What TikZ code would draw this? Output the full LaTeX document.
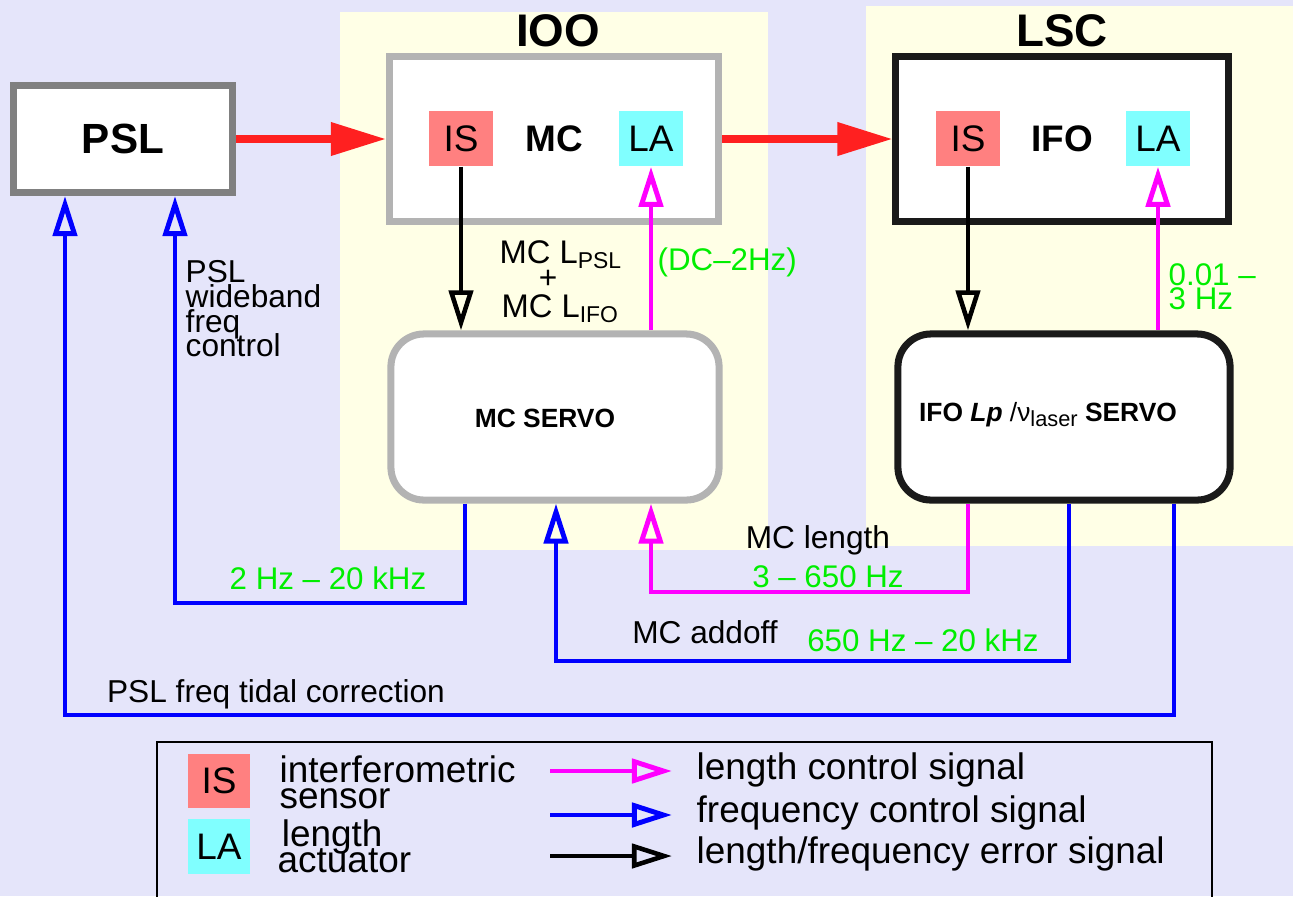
\documentclass[tikz,border=0pt]{standalone}
\usepackage{fontspec}
\setmainfont{Liberation Sans}
\usetikzlibrary{arrows.meta,calc,positioning}
\definecolor{Lavender}{HTML}{E5E5FA}
\definecolor{Cream}{HTML}{FFFFE6}
\definecolor{Beam}{HTML}{FF2020}
\definecolor{LenCol}{HTML}{FF00FF}
\definecolor{FreqCol}{HTML}{0000FF}
\definecolor{Band}{HTML}{00EE00}
\definecolor{Sensor}{HTML}{FF8080}
\definecolor{Actuator}{HTML}{80FFFF}
\definecolor{Frame}{HTML}{1A1A1A}
\definecolor{Pale}{HTML}{B3B3B3}
\newcommand{\fsz}[2]{\fontsize{#1pt}{#2pt}\selectfont\lineskiplimit=-100pt}

\begin{document}
\begin{tikzpicture}[x=0.01cm,y=-0.01cm,
  box/.style={draw,line width=2pt,fill=white,inner sep=0pt,font=\fsz{10.5}{12}\bfseries},
  servo/.style={box,rounded corners=0.33cm},
  chip/.style={inner sep=0pt,minimum width=0.64cm,minimum height=0.55cm,font=\fsz{10.5}{12}},
  tip/.style={-{Triangle[open,length=4mm,width=2.4mm]}},
  lenline/.style={LenCol,line width=1.4pt,tip},
  freqline/.style={FreqCol,line width=1.4pt,tip},
  errline/.style={black,line width=1.3pt,tip},
  beam/.style={Beam,line width=2pt,-{Triangle[length=5.5mm,width=3.2mm]}},
  note/.style={inner sep=0pt,font=\fsz{9}{10}},
  band/.style={note,Band,font=\fsz{8.9}{10}},
  title/.style={inner sep=0pt,font=\fsz{13}{15}\bfseries},
  legend/.style={inner sep=0pt,font=\fsz{10.5}{7.4},align=left}
]
\useasboundingbox (0,0) rectangle (1293,896);
\fill[Lavender] (0,0) rectangle (1293,896);
\fill[Cream] (340,12) rectangle (768,550);
\fill[Cream] (866,6) rectangle (1293,546);
\node[title] (ioo) at (558,31) {IOO};
\node[title] (lsc) at (1062,31) {LSC};

% optics
\node[box,draw=gray,minimum width=2.19cm,minimum height=1.07cm,font=\fsz{12}{14}\bfseries] (psl) at (123,139) {PSL};
\node[box,draw=Pale,minimum width=3.29cm,minimum height=1.65cm] (mc) at (554,139) {MC};
\node[box,draw=Frame,minimum width=3.32cm,minimum height=1.65cm] (ifo) at (1062,139) {IFO};
\node[chip,fill=Sensor] (mcis) at (461,138.5) {IS};
\node[chip,fill=Actuator] (mcla) at (651,138.5) {LA};
\node[chip,fill=Sensor] (ifois) at (968,138.5) {IS};
\node[chip,fill=Actuator] (ifola) at (1158,138.5) {LA};
\draw[beam] (psl.east) -- (mc.west);
\draw[beam] (mc.east) -- (ifo.west);

% servos
\node[servo,draw=Pale,minimum width=3.28cm,minimum height=1.66cm] (mcservo) at (555,417) {};
\node[servo,draw=Frame,minimum width=3.32cm,minimum height=1.66cm] (ifoservo) at (1064,417) {};
\node[note,font=\fsz{7.5}{9}\bfseries] (mcservotext) at (545,418) {MC SERVO};
\node[note,font=\fsz{7.5}{9}\bfseries] (ifoservotext) at (1048,415)
  {IFO \textit{Lp} \mdseries/ν\raisebox{-0.35ex}{\fsz{6.2}{7}laser} \bfseries SERVO};

\draw[errline] (mcis.south) -- (mcis.south |- mcservo.north);
\draw[lenline] (mcservo.north -| mcla) -- (mcla.south);
\draw[errline] (ifois.south) -- (ifois.south |- ifoservo.north);
\draw[lenline] (ifoservo.north -| ifola) -- (ifola.south);
\node[note,anchor=base west,font=\fsz{9.3}{10}] (lpsl) at (499,263) {MC L\textsubscript{PSL}};
\node[note] (plus) at (548,279) {+};
\node[note,anchor=base west,font=\fsz{9.3}{10}] (lifo) at (501,317) {MC L\textsubscript{IFO}};
\node[band,anchor=west] (dcband) at (657,262) {(DC–2Hz)};
\node[band,anchor=north west,align=left,font=\fsz{8.9}{6.9}] (ifoband) at (1168,263) {0.01 –\\3 Hz};

% feedback paths
\coordinate (wbR) at (465,603); \coordinate (wbL) at (175,603);
\coordinate (lenR) at (968,592); \coordinate (lenL) at (651,592);
\coordinate (adR) at (1069,661); \coordinate (adL) at (556,661);
\coordinate (tdR) at (1174,715); \coordinate (tdL) at (65,715);
\draw[freqline] (mcservo.south -| wbR) -- (wbR) -- (wbL) -- (psl.south -| wbL);
\draw[lenline] (ifoservo.south -| lenR) -- (lenR) -- (lenL) -- (mcservo.south -| lenL);
\draw[freqline] (ifoservo.south -| adR) -- (adR) -- (adL) -- (mcservo.south -| adL);
\draw[freqline] (ifoservo.south -| tdR) -- (tdR) -- (tdL) -- (psl.south -| tdL);
\node[note,anchor=north west,align=left,font=\fsz{9}{7}] (wbtext) at (185,260) {PSL\\wideband\\freq\\control};
\node[band] (wbband) at (328,578) {2 Hz – 20 kHz};
\node[note] (lentext) at (818,540) {MC length};
\node[band] (lenband) at (828,577) {3 – 650 Hz};
\node[note] (adtext) at (705,632) {MC addoff};
\node[band] (adband) at (923,640) {650 Hz – 20 kHz};
\node[note] (tdtext) at (276,694) {PSL freq tidal correction};

% legend
\draw[black,line width=0.6pt] (157,900) -- (157,742) -- (1212,742) -- (1212,900);
\node[chip,fill=Sensor,minimum width=0.62cm,minimum height=0.54cm] (keyis) at (219,781) {IS};
\node[chip,fill=Actuator,minimum width=0.62cm,minimum height=0.55cm] (keyla) at (219,846.5) {LA};
\node[legend,anchor=north west] (keyistext) at (279,755) {interferometric\\sensor};
\node[legend,anchor=north west] (keylatext) at (277,819) {\hspace{1.2pt}length\\actuator};
\coordinate (k1) at (550,771); \coordinate (k2) at (550,815); \coordinate (k3) at (550,856);
\draw[lenline] (k1) -- ++(122,0) coordinate (k1e);
\draw[freqline] (k2) -- ++(122,0) coordinate (k2e);
\draw[errline] (k3) -- ++(122,0) coordinate (k3e);
\node[legend,anchor=base west] (keylen) at (696,779) {length control signal};
\node[legend,anchor=base west] (keyfreq) at (696,822) {frequency control signal};
\node[legend,anchor=base west] (keyerr) at (696,863) {length/frequency error signal};
\end{tikzpicture}
\end{document}
